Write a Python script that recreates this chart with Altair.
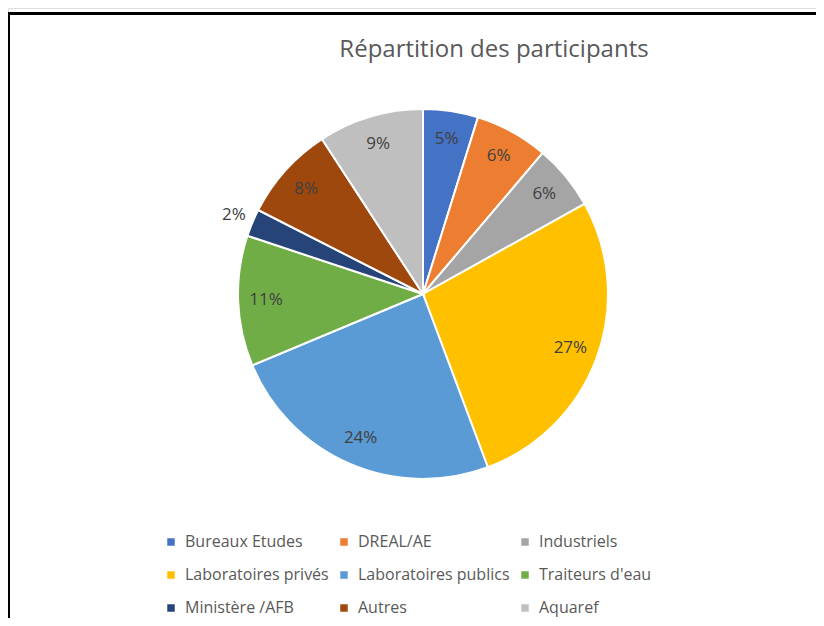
import altair as alt
import pandas as pd

categories = ["Bureaux Etudes", "DREAL/AE", "Industriels", "Laboratoires privés",
              "Laboratoires publics", "Traiteurs d'eau", "Ministère /AFB", "Autres", "Aquaref"]
values = [4.8, 6.4, 5.7, 27.4, 24.4, 11.4, 2.4, 8.3, 9.2]
colors = ["#4472C4", "#ED7D31", "#A5A5A5", "#FFC000", "#5B9BD5", "#70AD47",
          "#264478", "#9E480E", "#BFBFBF"]
title_text = "Répartition des participants"

df = pd.DataFrame({"cat": categories, "v": values, "idx": list(range(len(categories)))})

FONT = "Open Sans"
CX, CY, R = 415, 286, 185

base = alt.Chart(df).transform_calculate(pct="datum.v / 100")

color = alt.Color(
    "cat:N",
    scale=alt.Scale(domain=categories, range=colors),
    sort=categories,
    legend=alt.Legend(
        title=None, orient="none", legendX=155, legendY=526, columns=3,
        direction="horizontal",
        symbolType="square", symbolSize=56, symbolStrokeWidth=0,
        labelFont=FONT, labelFontSize=16, labelColor="#595959",
        labelOffset=6, rowPadding=17, columnPadding=7, labelLimit=300,
    ),
)

pie = base.mark_arc(stroke="white", strokeWidth=2, outerRadius=R).encode(
    theta=alt.Theta("v:Q", stack=True),
    order=alt.Order("idx:Q"),
    color=color,
    x=alt.value(CX), y=alt.value(CY),
)

labels = alt.Chart(df).transform_joinaggregate(
    total="sum(v)"
).transform_window(
    cum="sum(v)", sort=[alt.SortField("idx")], frame=[None, 0]
).transform_calculate(
    pct="datum.v / datum.total",
    mid="(datum.cum - datum.v / 2) / datum.total",
    labelR=f"datum.v / datum.total < 0.03 ? {R + 20} : {R - 28}",
).mark_text(font=FONT, fontSize=17, color="#404040").encode(
    theta=alt.Theta("mid:Q", stack=None, scale=alt.Scale(domain=[0, 1], range=[0, 6.283185307])),
    radius=alt.Radius("labelR:Q", scale=None),
    text=alt.Text("pct:Q", format=".0%"),
    x=alt.value(CX), y=alt.value(CY),
)

title = alt.Chart(pd.DataFrame({"t": [title_text]})).mark_text(
    font=FONT, fontSize=24, color="#595959", baseline="alphabetic", align="center"
).encode(text="t:N", x=alt.value(486), y=alt.value(49))

top_rule = alt.Chart(pd.DataFrame({"a": [0]})).mark_rule(color="black", strokeWidth=3).encode(
    x=alt.value(0), x2=alt.value(808), y=alt.value(5.5)
)
left_rule = alt.Chart(pd.DataFrame({"a": [0]})).mark_rule(color="black", strokeWidth=3).encode(
    x=alt.value(0.5), y=alt.value(4), y2=alt.value(610)
)

chart = alt.layer(pie, labels, title, top_rule, left_rule).properties(
    width=808, height=610, padding=0, autosize=alt.AutoSizeParams(type="none")
).resolve_scale(theta="independent").configure_view(stroke=None).configure(background="white")

chart.save("out.html", embed_options={"renderer": "svg", "actions": False})
